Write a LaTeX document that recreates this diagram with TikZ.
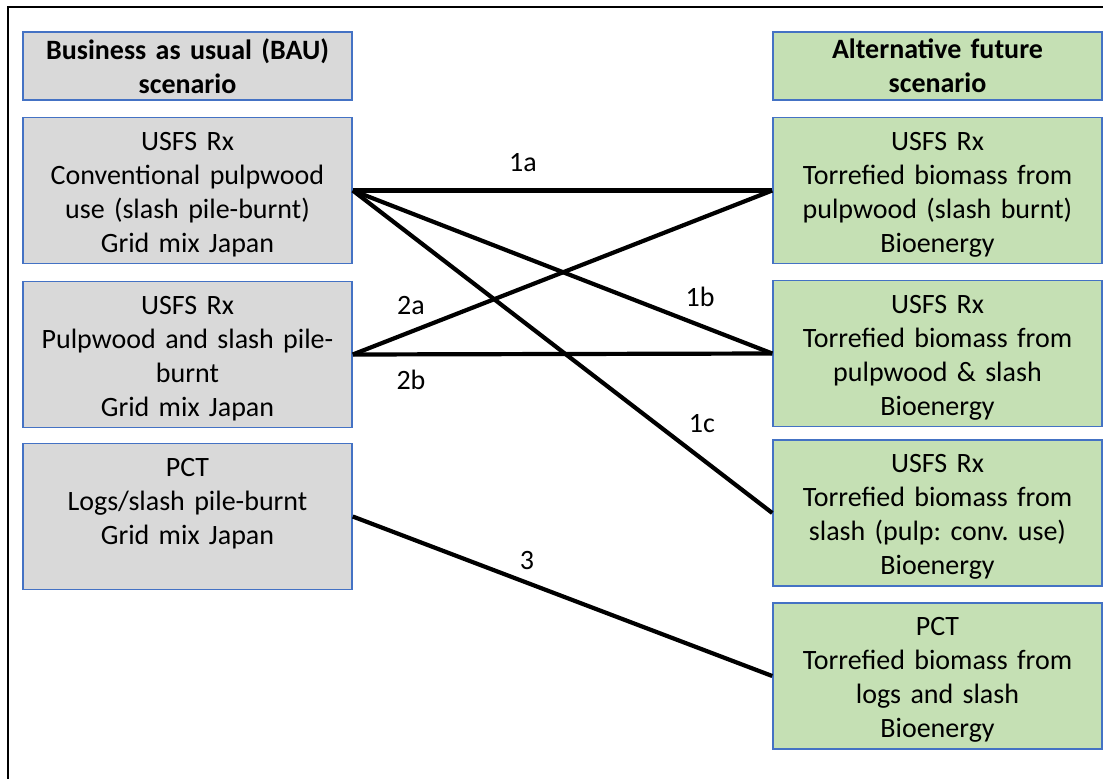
\documentclass[tikz,border=0pt]{standalone}
\usepackage{fontspec}
\setmainfont{Carlito}
\frenchspacing
\definecolor{bauGray}{HTML}{D9D9D9}
\definecolor{altGreen}{HTML}{C5E0B4}
\definecolor{boxBlue}{HTML}{4472C4}
\newcommand\topstr{\rule{0pt}{27pt}}
\newcommand\botstr{\rule[-6pt]{0pt}{6pt}}
\newcommand\wsp{\hspace{0.34em}}
\begin{document}
\begin{tikzpicture}[x=1pt,y=-1pt,
  txt/.style={font=\fontsize{28}{34}\selectfont},
  basebox/.style={txt, draw=boxBlue, line width=1.5pt, minimum width=329pt, inner sep=0pt, align=center, text width=320pt},
  hdrbox/.style={basebox, minimum height=68pt, font=\fontsize{28}{34}\selectfont\bfseries},
  bau/.style={basebox, fill=bauGray, minimum height=146pt},
  alt/.style={basebox, fill=altGreen, minimum height=146pt},
  link/.style={line width=4.2pt},
  lbl/.style={txt, inner sep=0pt}
]
\useasboundingbox (0,0) rectangle (1103,779);
\draw[line width=2pt] (8,790) -- (8,7) -- (1110,7);

\node[hdrbox, fill=bauGray] (lh) at (187.5,66) {Business as usual (BAU)\\scenario};
\node[hdrbox, fill=altGreen] (rh) at (937.5,66) {Alternative future\\scenario};

\node[bau] (l1) at (187.5,190.5) {\topstr USFS Rx\\Conventional\wsp pulpwood\\use (slash pile-burnt)\\Grid mix Japan\botstr};
\node[bau] (l2) at (187.5,354.5) {\topstr USFS Rx\\Pulpwood\wsp and slash pile-\\burnt\\Grid mix Japan\botstr};
\node[bau] (l3) at (187.5,516.5) {\topstr PCT\\Logs/slash pile-burnt\\Grid mix Japan\\\botstr};

\node[alt] (r1) at (937.5,190.5) {\topstr USFS Rx\\Torrefied biomass from\\pulpwood\wsp (slash burnt)\\Bioenergy\botstr};
\node[alt] (r2) at (937.5,353.5) {\topstr USFS Rx\\Torrefied biomass from\\pulpwood \& slash\\Bioenergy\botstr};
\node[alt] (r3) at (937.5,513) {\topstr USFS Rx\\Torrefied biomass from\\slash (pulp: conv. use)\\Bioenergy\botstr};
\node[alt] (r4) at (937.5,676) {\topstr PCT\\Torrefied biomass from\\logs and slash\\Bioenergy\botstr};

\draw[link] (l1.east) -- (r1.west);
\draw[link] (l1.east) -- (r2.west);
\draw[link] (l1.east) -- (r3.west);
\draw[link] (l2.east) -- (r1.west);
\draw[link] (l2.east) -- (r2.west);
\draw[link] (l3.east) -- (r4.west);

\node[lbl] (t1a) at (523,163) {1a};
\node[lbl] (t1b) at (700,297) {1b};
\node[lbl] (t1c) at (702,424) {1c};
\node[lbl] (t2a) at (411,306) {2a};
\node[lbl] (t2b) at (411,380) {2b};
\node[lbl] (t3) at (527,561) {3};
\end{tikzpicture}
\end{document}
